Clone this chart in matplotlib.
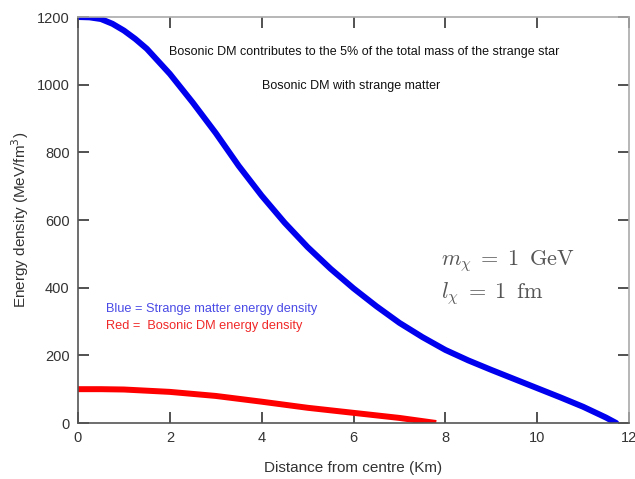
import matplotlib
matplotlib.use("Agg")
import matplotlib.pyplot as plt

plt.rcParams['font.family'] = ['Liberation Sans', 'DejaVu Sans']

# strange matter energy density (blue)
r_sm = [0.0, 0.25, 0.5, 0.75, 1.0, 1.25, 1.5, 2.0, 2.5, 3.0, 3.5, 4.0, 4.5,
        5.0, 5.5, 6.0, 6.5, 7.0, 7.5, 8.0, 8.5, 9.0, 9.5, 10.0, 10.5, 11.0,
        11.5, 11.72]
e_sm = [1200, 1199, 1194, 1180, 1160, 1135, 1106, 1032, 947, 857, 760, 672, 592,
        520, 456, 398, 345, 296, 254, 216, 185, 157, 130, 103, 76, 48,
        16, 0]

# bosonic DM energy density (red)
r_dm = [0.0, 0.5, 1.0, 2.0, 3.0, 4.0, 5.0, 6.0, 7.0, 7.8]
e_dm = [100, 100, 99, 92, 80, 63, 45, 30, 15, 0]

fig = plt.figure(figsize=(6.35, 4.79), dpi=100)
ax = fig.add_axes([0.1228, 0.1169, 0.8678, 0.8476])

ax.plot(r_sm, e_sm, color='#0000ee', lw=4.3, solid_capstyle='round',
        solid_joinstyle='round')
ax.plot(r_dm, e_dm, color='#ff0000', lw=4.3, solid_capstyle='butt',
        solid_joinstyle='round')

ax.set_xlim(0, 12)
ax.set_ylim(0, 1200)
ax.set_xticks([0, 2, 4, 6, 8, 10, 12])
ax.set_yticks([0, 200, 400, 600, 800, 1000, 1200])
ax.tick_params(direction='in', length=8, width=1.2, top=True, right=True,
               labelsize=10.5, labelcolor='#333333', color='#333333', pad=6)
for s in ['left', 'bottom']:
    ax.spines[s].set_color('#555555')
for s in ['top', 'right']:
    ax.spines[s].set_color('#aaaaaa')
for s in ax.spines.values():
    s.set_linewidth(1.2)

ax.set_xlabel('Distance from centre (Km)', fontsize=11, color='#333333', labelpad=11)
ax.set_ylabel('Energy density (MeV/fm$^3$)', fontsize=11, color='#333333', labelpad=4)

ax.text(0.52, 0.915, 'Bosonic DM contributes to the 5% of the total mass of the strange star',
        transform=ax.transAxes, ha='center', va='center', fontsize=9, color='#111111')
ax.text(0.495, 0.83, 'Bosonic DM with strange matter',
        transform=ax.transAxes, ha='center', va='center', fontsize=9, color='#111111')

ax.text(0.05, 0.28, 'Blue = Strange matter energy density', transform=ax.transAxes,
        ha='left', va='center', fontsize=9.2, color='#4a4ae6')
ax.text(0.05, 0.238, 'Red =  Bosonic DM energy density', transform=ax.transAxes,
        ha='left', va='center', fontsize=9.2, color='#f02828')

ax.text(0.658, 0.40, r'$m_\chi\;=\;1\;\;\mathrm{GeV}$', transform=ax.transAxes,
        ha='left', va='center', fontsize=16, color='#555555', math_fontfamily='cm')
ax.text(0.658, 0.32, r'$l_\chi\;=\;1\;\;\mathrm{fm}$', transform=ax.transAxes,
        ha='left', va='center', fontsize=16, color='#555555', math_fontfamily='cm')

fig.savefig('out.png', dpi=100)
